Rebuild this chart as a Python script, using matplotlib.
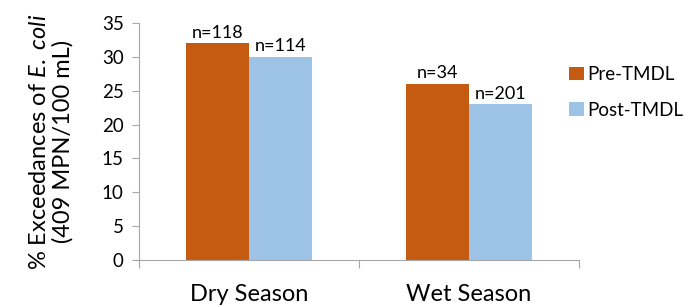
import matplotlib
matplotlib.use("Agg")
import matplotlib.pyplot as plt
import numpy as np

# chart data
seasons = ["Dry Season", "Wet Season"]
pre_tmdl = [32, 26]
post_tmdl = [30, 23]
pre_n = ["n=118", "n=34"]
post_n = ["n=114", "n=201"]

plt.rcParams['font.family'] = ['Lato', 'DejaVu Sans']
plt.rcParams['mathtext.fontset'] = 'custom'
plt.rcParams['mathtext.rm'] = 'Lato'
plt.rcParams['mathtext.it'] = 'Lato:italic'

ORANGE = '#C55A11'
BLUE = '#9DC3E6'
GREY = '#A6A6A6'

fig = plt.figure(figsize=(6.94, 3.07), dpi=100)
ax = fig.add_axes([0.2003, 0.1531, 0.634, 0.772])

x = np.arange(len(seasons))
w = 0.286
b1 = ax.bar(x - w / 2, pre_tmdl, w, color=ORANGE, label='Pre-TMDL')
b2 = ax.bar(x + w / 2, post_tmdl, w, color=BLUE, label='Post-TMDL')

for bars, labs in ((b1, pre_n), (b2, post_n)):
    for r, t in zip(bars, labs):
        ax.text(r.get_x() + r.get_width() / 2, r.get_height() + 0.4, t,
                ha='center', va='bottom', fontsize=13, color='black')

ax.set_xlim(-0.5, 1.5)
ax.set_ylim(0, 35)
ax.set_yticks(range(0, 36, 5))
ax.tick_params(axis='y', labelsize=13.5, length=5, color=GREY, pad=6)

# category labels, with tick marks at category boundaries
ax.set_xticks([-0.5, 0.5, 1.5])
ax.set_xticklabels([])
ax.set_xticks(x, minor=True)
ax.set_xticklabels(seasons, minor=True, fontsize=17)
ax.tick_params(axis='x', which='major', length=6, color=GREY)
ax.tick_params(axis='x', which='minor', length=0, pad=17)

for s in ('top', 'right'):
    ax.spines[s].set_visible(False)
for s in ('left', 'bottom'):
    ax.spines[s].set_color(GREY)

ax.set_ylabel('% Exceedances of $\\it{E.\\ coli}$\n(409 MPN/100 mL)',
              fontsize=17, linespacing=1.15, labelpad=20)

ax.legend(loc='upper left', bbox_to_anchor=(0.94, 0.89), frameon=False,
          fontsize=13.5, handlelength=0.75, handleheight=0.75,
          handletextpad=0.2, labelspacing=1.0)

fig.savefig('out.png', dpi=100)
